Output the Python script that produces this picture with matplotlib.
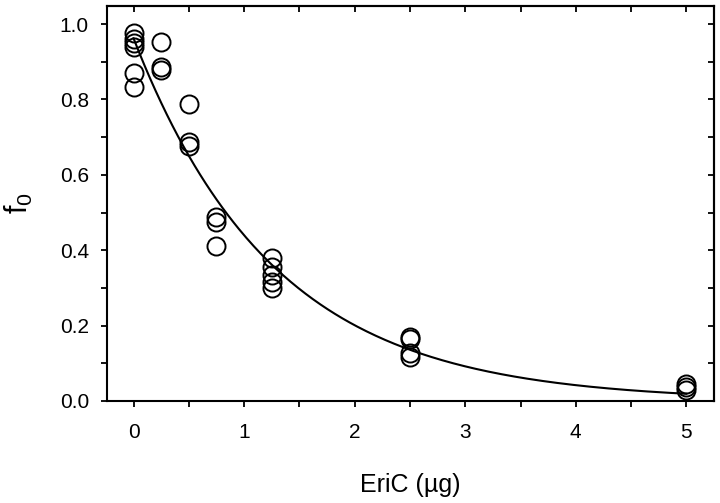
import numpy as np
import matplotlib
matplotlib.use("Agg")
import matplotlib.pyplot as plt
from matplotlib.ticker import MultipleLocator

plt.rcParams['font.family'] = ['Liberation Sans', 'DejaVu Sans']
plt.rcParams['mathtext.fontset'] = 'custom'
plt.rcParams['mathtext.rm'] = 'Liberation Sans'
plt.rcParams['mathtext.it'] = 'Liberation Sans'

# --- data ---
dose_0 = [0.976, 0.960, 0.950, 0.939, 0.870, 0.833]
dose_025 = [0.952, 0.886, 0.878]
dose_05 = [0.788, 0.687, 0.677]
dose_075 = [0.488, 0.475, 0.410]
dose_125 = [0.379, 0.355, 0.334, 0.316, 0.300]
dose_25 = [0.170, 0.164, 0.127, 0.117]
dose_5 = [0.045, 0.037, 0.030]

doses = [0.0, 0.25, 0.5, 0.75, 1.25, 2.5, 5.0]
groups = [dose_0, dose_025, dose_05, dose_075, dose_125, dose_25, dose_5]

x_data = np.concatenate([[d] * len(g) for d, g in zip(doses, groups)])
y_data = np.concatenate(groups)

# exponential fit f = A * exp(-k x), least squares by scanning k
best = None
for k in np.linspace(0.3, 1.5, 1201):
    e = np.exp(-k * x_data)
    A = np.sum(y_data * e) / np.sum(e * e)
    sse = np.sum((y_data - A * e) ** 2)
    if best is None or sse < best[0]:
        best = (sse, A, k)
_, A_fit, k_fit = best

x_fit = np.linspace(0, 5, 300)
y_fit = A_fit * np.exp(-k_fit * x_fit)

fig = plt.figure(figsize=(7.2, 5.03), dpi=100)
ax = fig.add_axes([0.1486, 0.2028, 0.8431, 0.7852])

ax.plot(x_fit, y_fit, color='black', linewidth=1.5, zorder=2)
ax.plot(x_data, y_data, linestyle='none', marker='o', markersize=13,
        markerfacecolor='none', markeredgecolor='black', markeredgewidth=1.4,
        clip_on=False, zorder=3)

ax.set_xlim(-0.24, 5.25)

ax.xaxis.set_major_locator(MultipleLocator(1))
ax.xaxis.set_minor_locator(MultipleLocator(0.5))
ax.yaxis.set_major_locator(MultipleLocator(0.2))
ax.yaxis.set_minor_locator(MultipleLocator(0.1))
ax.set_ylim(0, 1.048)
ax.yaxis.set_major_formatter(lambda v, pos: f"{v:.1f}")

ax.tick_params(which='both', direction='out', length=4, width=1.3, labelsize=15)
ax.tick_params(axis='x', pad=12)
ax.tick_params(axis='y', pad=9)
for s in ax.spines.values():
    s.set_linewidth(1.5)

# top and right ticks point inward
top = ax.secondary_xaxis('top')
top.xaxis.set_major_locator(MultipleLocator(1))
top.xaxis.set_minor_locator(MultipleLocator(0.5))
top.tick_params(which='both', direction='in', length=4, width=1.3, labeltop=False)
top.spines['top'].set_linewidth(1.5)
right = ax.secondary_yaxis('right')
right.yaxis.set_major_locator(MultipleLocator(0.2))
right.yaxis.set_minor_locator(MultipleLocator(0.1))
right.tick_params(which='both', direction='in', length=4, width=1.3, labelright=False)
right.spines['right'].set_linewidth(1.5)

ax.set_xlabel('EriC (µg)', fontsize=18, labelpad=22)
ax.set_ylabel(r'$\mathregular{f_0}$', fontsize=22, labelpad=18)

fig.savefig('out.png', dpi=100)
